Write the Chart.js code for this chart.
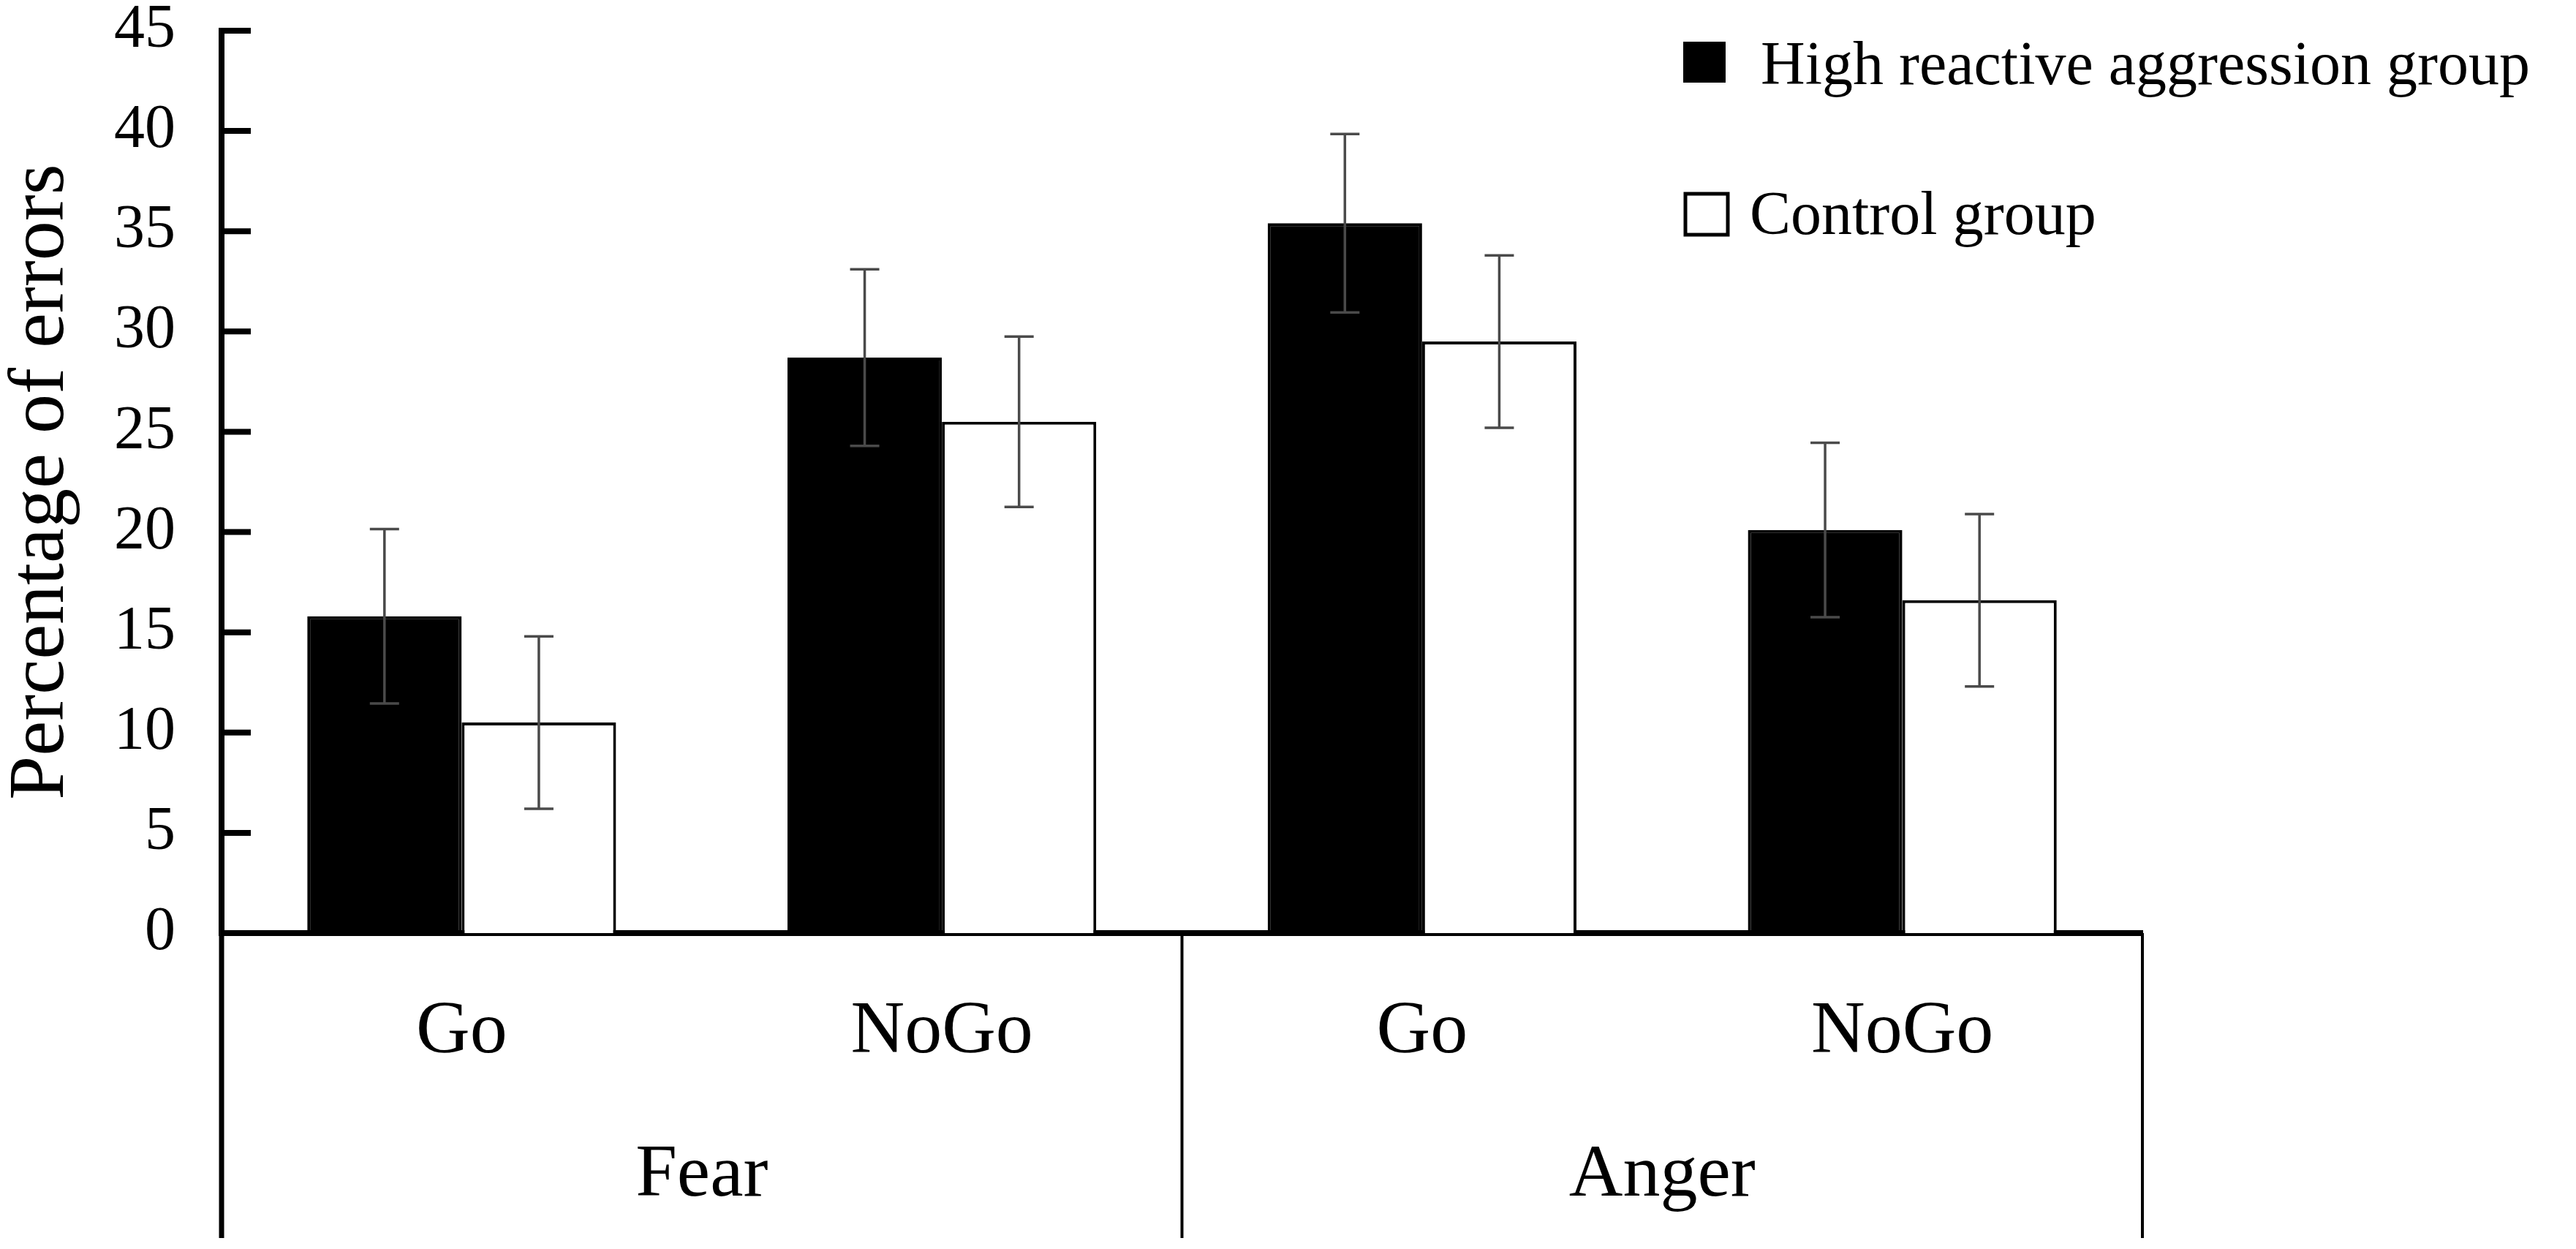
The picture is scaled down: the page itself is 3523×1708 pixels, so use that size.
<!DOCTYPE html>
<html>
<head>
<meta charset="utf-8">
<script src="https://cdn.jsdelivr.net/npm/chart.js@4.4.1/dist/chart.umd.min.js"></script>
<style>
    html, body { margin: 0; padding: 0; background: #fff; }
    #wrap { width: 3523px; height: 1708px; }
</style>
</head>
<body>
<div id="wrap"><canvas id="errChart" width="3523" height="1708"></canvas></div>
<script>
const conditions = ["Go", "NoGo", "Go", "NoGo"];
const emotions = ["Fear", "Anger"];
const seriesNames = ["High reactive aggression group", "Control group"];
const highValues = [15.8, 28.7, 35.4, 20.1];
const highErrors = [4.35, 4.4, 4.45, 4.35];
const controlValues = [10.5, 25.5, 29.5, 16.6];
const controlErrors = [4.3, 4.25, 4.3, 4.3];
const yTickValues = [0, 5, 10, 15, 20, 25, 30, 35, 40, 45];

const SERIF = "'Liberation Serif', 'Times New Roman', serif";
const errorSets = [highErrors, controlErrors];

const decorPlugin = {
    id: "decor",
    afterDatasetsDraw(chart) {
        const ctx = chart.ctx;
        const y = chart.scales.y;
        ctx.save();
        ctx.strokeStyle = "#4a4a4a";
        ctx.lineWidth = 3.5;
        chart.data.datasets.forEach((ds, d) => {
            const meta = chart.getDatasetMeta(d);
            meta.data.forEach((bar, i) => {
                const top = y.getPixelForValue(ds.data[i] + errorSets[d][i]);
                const bottom = y.getPixelForValue(ds.data[i] - errorSets[d][i]);
                ctx.beginPath();
                ctx.moveTo(bar.x, top);
                ctx.lineTo(bar.x, bottom);
                ctx.moveTo(bar.x - 20, top);
                ctx.lineTo(bar.x + 20, top);
                ctx.moveTo(bar.x - 20, bottom);
                ctx.lineTo(bar.x + 20, bottom);
                ctx.stroke();
            });
        });
        ctx.restore();
    },
    afterDraw(chart) {
        const ctx = chart.ctx;
        const x = chart.scales.x;
        const y = chart.scales.y;
        const area = chart.chartArea;
        ctx.save();

        // tick marks pointing into the plot
        ctx.strokeStyle = "#000";
        ctx.lineWidth = 8;
        y.ticks.forEach(t => {
            const py = y.getPixelForValue(t.value);
            ctx.beginPath();
            ctx.moveTo(area.left, py);
            ctx.lineTo(area.left + 40, py);
            ctx.stroke();
        });

        // separators under the axis
        const lowEnd = area.bottom + 417;
        const mid = (x.getPixelForValue(1) + x.getPixelForValue(2)) / 2;
        ctx.lineWidth = 7;
        ctx.beginPath();
        ctx.moveTo(area.left, area.bottom);
        ctx.lineTo(area.left, lowEnd);
        ctx.stroke();
        ctx.lineWidth = 4;
        [mid, area.right].forEach(px => {
            ctx.beginPath();
            ctx.moveTo(px, area.bottom);
            ctx.lineTo(px, lowEnd);
            ctx.stroke();
        });

        // emotion labels
        ctx.fillStyle = "#000";
        ctx.font = "102px " + SERIF;
        ctx.textAlign = "center";
        ctx.textBaseline = "alphabetic";
        emotions.forEach((name, g) => {
            const cx = (x.getPixelForValue(g * 2) + x.getPixelForValue(g * 2 + 1)) / 2;
            ctx.fillText(name, cx, area.bottom + 359);
        });

        // legend
        ctx.font = "84px " + SERIF;
        ctx.textAlign = "left";
        const lx = area.right - 628;
        chart.data.datasets.forEach((ds, d) => {
            if (d === 0) {
                const cy = area.top + 43;
                ctx.fillStyle = ds.backgroundColor;
                ctx.fillRect(lx, cy - 28, 58, 56);
                ctx.fillStyle = "#000";
                ctx.fillText(ds.label, lx + 106, cy + 30);
            } else {
                const cy = area.top + 251;
                ctx.lineWidth = 5;
                ctx.strokeStyle = "#000";
                ctx.strokeRect(lx + 3, cy - 28, 58, 56);
                ctx.fillStyle = "#000";
                ctx.fillText(ds.label, lx + 91, cy + 27);
            }
        });
        ctx.restore();
    }
};

new Chart(document.getElementById("errChart"), {
    type: "bar",
    data: {
        labels: conditions,
        datasets: [
            {
                label: seriesNames[0],
                data: highValues,
                backgroundColor: "#000",
                borderColor: "#000",
                borderWidth: 4,
                borderSkipped: "bottom"
            },
            {
                label: seriesNames[1],
                data: controlValues,
                backgroundColor: "#fff",
                borderColor: "#000",
                borderWidth: 4,
                borderSkipped: "bottom"
            }
        ]
    },
    options: {
        responsive: false,
        devicePixelRatio: 1,
        animation: false,
        layout: { padding: { left: 0, right: 593, top: 42, bottom: 0 } },
        datasets: { bar: { categoryPercentage: 0.643, barPercentage: 1.0 } },
        plugins: {
            legend: { display: false },
            tooltip: { enabled: false }
        },
        scales: {
            x: {
                z: 1,
                grid: { display: false, drawTicks: false },
                border: { display: true, color: "#000", width: 8 },
                ticks: {
                    color: "#000",
                    font: { family: SERIF, size: 102, lineHeight: 1 },
                    padding: 85,
                    maxRotation: 0,
                    autoSkip: false
                },
                afterFit: s => { s.height = 432; s.paddingLeft = 0; s.paddingRight = 0; }
            },
            y: {
                min: 0,
                max: 45,
                grid: { display: false, drawTicks: false },
                border: { display: true, color: "#000", width: 8 },
                ticks: {
                    color: "#000",
                    font: { family: SERIF, size: 84, lineHeight: 1 },
                    padding: 63
                },
                afterBuildTicks: s => { s.ticks = yTickValues.map(v => ({ value: v })); },
                afterFit: s => { s.width = 303; s.paddingTop = 0; s.paddingBottom = 0; },
                title: {
                    display: true,
                    text: "Percentage of errors",
                    color: "#000",
                    font: { family: SERIF, size: 108, lineHeight: 1 },
                    padding: { top: 4, bottom: 0 }
                }
            }
        }
    },
    plugins: [decorPlugin]
});
</script>
</body>
</html>
